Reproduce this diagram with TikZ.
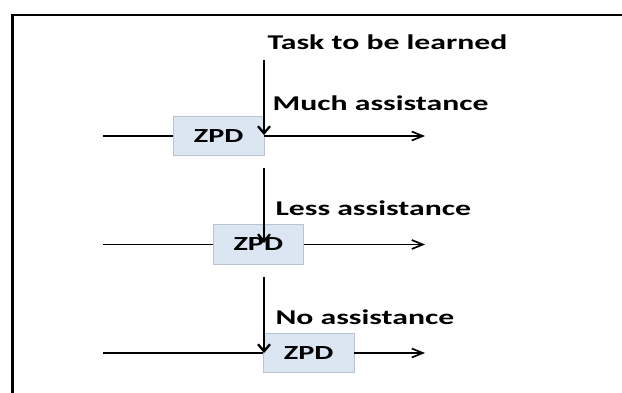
\documentclass[tikz,border=0pt]{standalone}
\usepackage{fontspec}
\usetikzlibrary{arrows.meta}
% wide bold sans used for every label
\newfontfamily\lbl[FakeStretch=1.51]{Carlito}
\definecolor{zpdfill}{RGB}{220,230,242}
\definecolor{zpdline}{RGB}{185,195,210}
\newcommand{\zpdtext}{\raisebox{-1.8pt}{ZPD}}
\begin{document}
\begin{tikzpicture}[x=1pt,y=-1pt,
  zpdbox/.style={draw=zpdline,fill=zpdfill,line width=0.9pt,inner sep=0pt,
    minimum width=90.5pt,minimum height=39.5pt,font=\lbl\bfseries\fontsize{20}{22}\selectfont},
  caption/.style={anchor=base west,inner sep=0pt,font=\lbl\bfseries\fontsize{21}{24}\selectfont},
  hline/.style={line width=1.7pt},
  harrow/.style={line width=1.7pt,-{Straight Barb[length=11pt,width=9pt]}},
  varrow/.style={line width=2.3pt,-{Straight Barb[length=7pt,width=12pt]}},
  frameline/.style={black,line cap=rect}]
  \useasboundingbox (0,0) rectangle (622,392);

  % outer frame (top and left sides)
  \draw[frameline,line width=2pt] (12.5,15) -- (640,15);
  \draw[frameline,line width=3pt] (12.5,15) -- (12.5,400);

  % boxes
  \node[zpdbox] (z1) at (218.7,136) {\zpdtext};
  \node[zpdbox] (z2) at (258.3,244.5) {\zpdtext};
  \node[zpdbox] (z3) at (308.7,353) {\zpdtext};

  % captions
  \node[caption] (task) at (267.4,49.7) {Task to be learned};
  \node[caption] (much) at (272.5,110) {Much assistance};
  \node[caption] (less) at (275.3,215.7) {Less assistance};
  \node[caption] (none) at (275.3,324.3) {No assistance};

  % line ends
  \coordinate (l1) at (103,136);
  \coordinate (r1) at (425,136);
  \coordinate (l2) at (103,244.5);
  \coordinate (r2) at (425,244.5);
  \coordinate (l3) at (103,353);
  \coordinate (r3) at (425,353);
  \coordinate (v1s) at (264,60);
  \coordinate (v1e) at (264,135);
  \coordinate (v2s) at (264,168);
  \coordinate (v2e) at (264,243);
  \coordinate (v3s) at (264,277);
  \coordinate (v3e) at (264,353);

  % horizontal lines through the boxes
  \draw[hline] (l1) -- (z1.west);
  \draw[harrow] (z1.east) -- (r1);
  \draw[hline] (l2) -- (z2.west);
  \draw[harrow] (z2.east) -- (r2);
  \draw[hline] (l3) -- (z3.west);
  \draw[harrow] (z3.east) -- (r3);

  % vertical arrows
  \draw[varrow] (v1s) -- (v1e);
  \draw[varrow] (v2s) -- (v2e);
  \draw[varrow] (v3s) -- (v3e);
\end{tikzpicture}
\end{document}
